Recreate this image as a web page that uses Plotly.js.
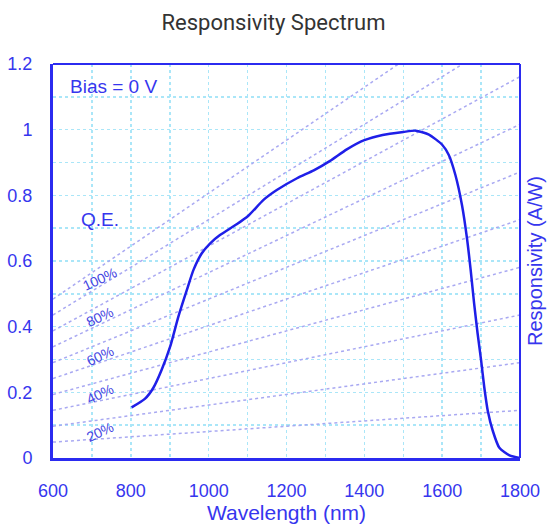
<!DOCTYPE html>
<html>
<head>
<meta charset="utf-8">
<script src="https://cdn.plot.ly/plotly-3.0.1.min.js"></script>
<style>html,body{margin:0;padding:0;background:#fff;}#chart{width:547px;height:526px;}</style>
</head>
<body>
<div id="chart"></div>
<script>
// Responsivity curve
var wavelength = [802, 836, 858, 879, 901, 922, 944, 961, 982, 1004, 1029, 1072, 1102, 1141, 1175, 1227, 1270, 1312, 1355, 1400, 1447, 1500, 1532, 1566, 1600, 1617, 1634, 1651, 1664, 1673, 1682, 1691, 1700, 1708, 1717, 1730, 1747, 1773, 1800];
var responsivity = [0.154, 0.18, 0.214, 0.268, 0.339, 0.43, 0.512, 0.573, 0.623, 0.654, 0.679, 0.712, 0.738, 0.786, 0.816, 0.852, 0.876, 0.905, 0.94, 0.968, 0.984, 0.993, 0.997, 0.985, 0.954, 0.923, 0.862, 0.770, 0.667, 0.575, 0.472, 0.38, 0.298, 0.217, 0.145, 0.083, 0.031, 0.008, 0];
// Quantum-efficiency guide lines (percent)
var qeLevels = [10, 20, 30, 40, 50, 60, 70, 80, 90, 100];
var qeLabels = ["20%", "40%", "60%", "80%", "100%"];
var qeLabelLevels = [20, 40, 60, 80, 100];
var xRange = [600, 1800];
var xTickVals = [600, 800, 1000, 1200, 1400, 1600, 1800];
var yTickVals = [0, 0.2, 0.4, 0.6, 0.8, 1, 1.2];
var yTickText = ["0", "0.2", "0.4", "0.6", "0.8", "1", "1.2"];

var HC_E = 1239.84; // nm·W/A
var blue = '#2b2bf0';
var textBlue = '#3636ee';
var font = 'Liberation Sans, Arial, sans-serif';
var traces = [];
qeLevels.forEach(function (q) {
  traces.push({
    x: xRange.slice(),
    y: xRange.map(function (l) { return q / 100 * l / HC_E; }),
    mode: 'lines', type: 'scatter', hoverinfo: 'skip', showlegend: false,
    line: {color: '#a9a9f2', width: 1.5, dash: '3px,3px'}
  });
});
traces.push({
  x: wavelength, y: responsivity, mode: 'lines', type: 'scatter', showlegend: false,
  line: {color: '#1f1fe8', width: 2.5, shape: 'spline', smoothing: 0.6}
});

var annotations = [];
var labelX = 720;
qeLabelLevels.forEach(function (q, i) {
  annotations.push({
    x: labelX, y: q / 100 * labelX / HC_E, xref: 'x', yref: 'y',
    text: qeLabels[i], showarrow: false, textangle: -25,
    yshift: -12, font: {family: font, size: 14, color: '#4444e2'}
  });
});
annotations.push({x: 722, y: 0.725, xref: 'x', yref: 'y', text: 'Q.E.', showarrow: false,
  font: {family: font, size: 19, color: textBlue}});
annotations.push({x: 638, y: 1.13, xref: 'x', yref: 'y', text: 'Bias = 0 V', showarrow: false, xanchor: 'left',
  font: {family: font, size: 19, color: textBlue}});
annotations.push({x: 1.0, xref: 'paper', xanchor: 'center', xshift: 15, y: 0.5, yref: 'paper', yanchor: 'middle',
  text: 'Responsivity (A/W)', showarrow: false, textangle: -90, borderpad: 0,
  font: {family: font, size: 20, color: textBlue}});

var layout = {
  width: 547, height: 526,
  margin: {l: 53, r: 27, t: 64, b: 68},
  paper_bgcolor: '#fff', plot_bgcolor: '#fff',
  title: {text: 'Responsivity Spectrum', x: 0.5, xanchor: 'center', y: 0.958, yanchor: 'middle',
    font: {family: 'Roboto, sans-serif', size: 22, color: '#333'}},
  xaxis: {
    range: xRange, tickvals: xTickVals, showline: true, linecolor: blue, linewidth: 3,
    showgrid: true, gridcolor: '#aae6f8', griddash: 'dot', gridwidth: 1.5,
    minor: {dtick: 100, tick0: 600, showgrid: true, gridcolor: '#aae6f8', griddash: 'dot', gridwidth: 1.5},
    ticks: 'outside', ticklen: 14, tickcolor: 'rgba(0,0,0,0)', zeroline: false,
    tickfont: {family: font, size: 18, color: textBlue},
    title: {text: 'Wavelength (nm)', standoff: 4, font: {family: font, size: 21, color: textBlue}}
  },
  yaxis: {
    range: [0, 1.2], tickvals: yTickVals, ticktext: yTickText, showline: true, linecolor: blue, linewidth: 3,
    showgrid: true, gridcolor: '#aae6f8', griddash: 'dot', gridwidth: 1.5,
    minor: {dtick: 0.1, tick0: 0, showgrid: true, gridcolor: '#aae6f8', griddash: 'dot', gridwidth: 1.5},
    ticks: 'outside', ticklen: 14, tickcolor: 'rgba(0,0,0,0)', zeroline: false,
    tickfont: {family: font, size: 18, color: textBlue}
  },
  shapes: [
    {type: 'line', xref: 'paper', yref: 'paper', x0: 0, x1: 1, y0: 1, y1: 1, line: {color: blue, width: 2}},
    {type: 'line', xref: 'paper', yref: 'paper', x0: 1, x1: 1, y0: 0, y1: 1, line: {color: blue, width: 2}}
  ],
  annotations: annotations
};
Plotly.newPlot('chart', traces, layout, {displayModeBar: false, staticPlot: true});
</script>
</body>
</html>
